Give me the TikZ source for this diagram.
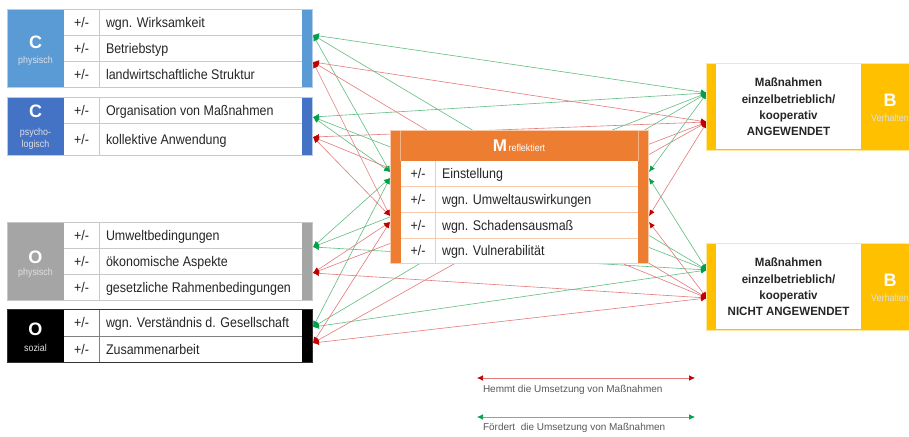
\documentclass[tikz,border=0pt]{standalone}
\usepackage{fontspec}
\setmainfont{Liberation Sans}
\newfontfamily\nfont{Liberation Sans}[FakeStretch=0.89]
\newfontfamily\rfont{Liberation Sans}[FakeStretch=0.96]
\usetikzlibrary{arrows.meta}
\definecolor{cphys}{HTML}{5B9BD5}
\definecolor{cpsy}{HTML}{4472C4}
\definecolor{ophys}{HTML}{A5A5A5}
\definecolor{mor}{HTML}{ED7D31}
\definecolor{morl}{HTML}{F8CBAD}
\definecolor{byel}{HTML}{FFC000}
\definecolor{txt}{HTML}{262626}
\definecolor{gline}{HTML}{62BD82}
\definecolor{ghead}{HTML}{00A04A}
\definecolor{rline}{HTML}{E57A7A}
\definecolor{rhead}{HTML}{C00000}
\definecolor{legtxt}{HTML}{595959}
\definecolor{cbord}{HTML}{B4CDEA}
\definecolor{obord}{HTML}{C8C8C8}
\newcommand{\lrow}[3]{%
  \node[pmtxt] (#1p) at (81.5,#2) {+/-};
  \node[rowtxt] (#1t) at (106,#2) {#3};}
\newcommand{\mrow}[3]{%
  \node[pmtxt] (#1p) at (418,#2) {+/-};
  \node[rowtxt] (#1t) at (442,#2) {#3};}
\begin{document}
\begin{tikzpicture}[x=1pt,y=-1pt,
  every node/.style={inner sep=0pt,outer sep=0pt},
  pmtxt/.style={font=\nfont\fontsize{14}{14}\selectfont,text=txt,text height=10pt,text depth=0pt},
  rowtxt/.style={pmtxt,anchor=west},
  bigl/.style={font=\bfseries\fontsize{18}{18}\selectfont,text=white},
  subl/.style={font=\nfont\fontsize{10}{12}\selectfont,text=white!88!black,align=center},
  rtxt/.style={font=\rfont\bfseries\fontsize{12}{16.4}\selectfont,text=txt,align=center},
  gcon/.style={draw=gline,line width=0.6pt,<->,>={Latex[length=6pt,width=5.5pt,color=ghead]}},
  rcon/.style={draw=rline,line width=0.6pt,<->,>={Latex[length=6pt,width=5.5pt,color=rhead]}},
  legtext/.style={font=\fontsize{10}{12}\selectfont,text=legtxt,anchor=west}
]
\useasboundingbox (0,0) rectangle (909,436);
\clip (0,0) rectangle (909,436);
\fill[white] (0,0) rectangle (909,436);

% endpoints
\coordinate (cpg) at (313,35);  \coordinate (cpr) at (313,62);
\coordinate (csg) at (313,117); \coordinate (csr) at (313,137);
\coordinate (opg) at (313,247); \coordinate (opr) at (313,273);
\coordinate (osg) at (313,327); \coordinate (osr) at (313,343);
\coordinate (mlg1) at (390,172); \coordinate (mlg2) at (390,178);
\coordinate (mlr1) at (390,216); \coordinate (mlr2) at (390,222);
\coordinate (mrg1) at (649,172); \coordinate (mrg2) at (649,178);
\coordinate (mrr1) at (649,216); \coordinate (mrr2) at (649,222);
\coordinate (atg) at (707,93);  \coordinate (atr) at (707,122);
\coordinate (ntg) at (707,270); \coordinate (ntr) at (707,298);

% connectors
\foreach \s/\m in {cpg/mlg1,csg/mlg1,opg/mlg2,osg/mlg2}{
  \draw[gcon] (\s) -- (\m);
  \draw[gcon] (\s) -- (atg);
  \draw[gcon] (\s) -- (ntg);
}
\foreach \s/\m in {cpr/mlr1,csr/mlr1,opr/mlr2,osr/mlr2}{
  \draw[rcon] (\s) -- (\m);
  \draw[rcon] (\s) -- (atr);
  \draw[rcon] (\s) -- (ntr);
}
\draw[gcon] (mrg1) -- (atg);
\draw[gcon] (mrg2) -- (ntg);
\draw[rcon] (mrr1) -- (atr);
\draw[rcon] (mrr2) -- (ntr);

% ---------- C physisch
\fill[white] (7,9.5) rectangle (312,87.5);
\fill[cphys] (7,9.5) rectangle (64,87.5);
\fill[cphys] (302,9.5) rectangle (312,87.5);
\draw[cbord,line width=0.8pt] (64,35) -- (302,35) (64,61.5) -- (302,61.5) (99,9.5) -- (99,87.5);
\draw[cbord,line width=0.8pt] (7,9.5) rectangle (312,87.5);
\node[bigl] (cpC) at (35.5,42) {C};
\node[subl] (cpS) at (35.5,61) {physisch};
\lrow{cp1}{22.5}{wgn. Wirksamkeit}
\lrow{cp2}{48.5}{Betriebstyp}
\lrow{cp3}{74.5}{landwirtschaftliche Struktur}

% ---------- C psychologisch
\fill[white] (7,97) rectangle (312,155);
\fill[cpsy] (7,97) rectangle (64,155);
\fill[cpsy] (302,97) rectangle (312,155);
\draw[cbord,line width=0.8pt] (64,123) -- (302,123) (99,97) -- (99,155);
\draw[cbord,line width=0.8pt] (7,97) rectangle (312,155);
\node[bigl] (csC) at (35.5,111) {C};
\node[subl] (csS) at (35.5,138.5) {psycho-\\logisch};
\lrow{cs1}{110}{Organisation von Maßnahmen}
\lrow{cs2}{139}{kollektive Anwendung}

% ---------- O physisch
\fill[white] (7,222.7) rectangle (312,300);
\fill[ophys] (7,222.7) rectangle (64,300);
\fill[ophys] (302,222.7) rectangle (312,300);
\draw[obord,line width=0.8pt] (64,248.3) -- (302,248.3) (64,274.3) -- (302,274.3) (99,222.7) -- (99,300);
\draw[obord,line width=0.8pt] (7,222.7) rectangle (312,300);
\node[bigl] (opC) at (35.5,257) {O};
\node[subl] (opS) at (35.5,273) {physisch};
\lrow{op1}{235.5}{Umweltbedingungen}
\lrow{op2}{261.3}{ökonomische Aspekte}
\lrow{op3}{287.2}{gesetzliche Rahmenbedingungen}

% ---------- O sozial
\fill[white] (7,309.3) rectangle (312,362.7);
\fill[black] (7,309.3) rectangle (64,362.7);
\fill[black] (302,309.3) rectangle (312,362.7);
\draw[gray,line width=0.8pt] (64,336) -- (302,336) (99,309.3) -- (99,362.7);
\draw[black!80,line width=0.8pt] (7,309.3) rectangle (312,362.7);
\node[bigl] (osC) at (35.5,329) {O};
\node[subl] (osS) at (35.5,348) {sozial};
\lrow{os1}{322.7}{wgn. Verständnis d. Gesellschaft}
\lrow{os2}{349.3}{Zusammenarbeit}

% ---------- M box
\fill[mor] (390.7,130.7) rectangle (648.3,263.3);
\fill[white] (400.7,160.7) rectangle (638,262.6);
\draw[morl,line width=0.8pt] (400.7,186) -- (638,186) (400.7,212.7) -- (638,212.7) (400.7,238.3) -- (638,238.3) (435,160.7) -- (435,262.6);
\draw[morl!70!mor,line width=0.5pt] (400.7,130.7) -- (400.7,160.7) (638,130.7) -- (638,160.7);
\draw[morl,line width=0.6pt] (390.7,130.7) rectangle (648.3,263.3);
\node[text=white] (mH) at (519,146) {{\bfseries\fontsize{17}{17}\selectfont M}\,{\nfont\fontsize{10}{10}\selectfont reflektiert}};
\mrow{m1}{173.3}{Einstellung}
\mrow{m2}{199.3}{wgn. Umweltauswirkungen}
\mrow{m3}{225.5}{wgn. Schadensausmaß}
\mrow{m4}{250.8}{wgn. Vulnerabilität}

% ---------- right boxes
\fill[byel] (706.7,63.3) rectangle (909,150);
\fill[white] (716,64) rectangle (861,149.3);
\draw[byel!40,line width=0.6pt] (706.7,63.3) rectangle (909,150);
\node[rtxt] (aT) at (788.5,107) {Maßnahmen\\einzelbetrieblich/\\kooperativ\\ANGEWENDET};
\node[bigl] (aB) at (890,100) {B};
\node[subl] (aV) at (890,117.5) {Verhalten};

\fill[byel] (706.7,243.3) rectangle (909,330);
\fill[white] (716,244) rectangle (861,329.3);
\draw[byel!40,line width=0.6pt] (706.7,243.3) rectangle (909,330);
\node[rtxt] (nT) at (788.5,287) {Maßnahmen\\einzelbetrieblich/\\kooperativ\\NICHT ANGEWENDET};
\node[bigl] (nB) at (890,280) {B};
\node[subl] (nV) at (890,297.5) {Verhalten};

% ---------- legend
\coordinate (l1a) at (477,378); \coordinate (l1b) at (695,378);
\coordinate (l2a) at (477,417); \coordinate (l2b) at (695,417);
\draw[rcon] (l1a) -- (l1b);
\draw[gcon] (l2a) -- (l2b);
\node[legtext] (l1t) at (483,390) {Hemmt die Umsetzung von Maßnahmen};
\node[legtext] (l2t) at (483,428) {Fördert\ \ die Umsetzung von Maßnahmen};
\end{tikzpicture}
\end{document}
